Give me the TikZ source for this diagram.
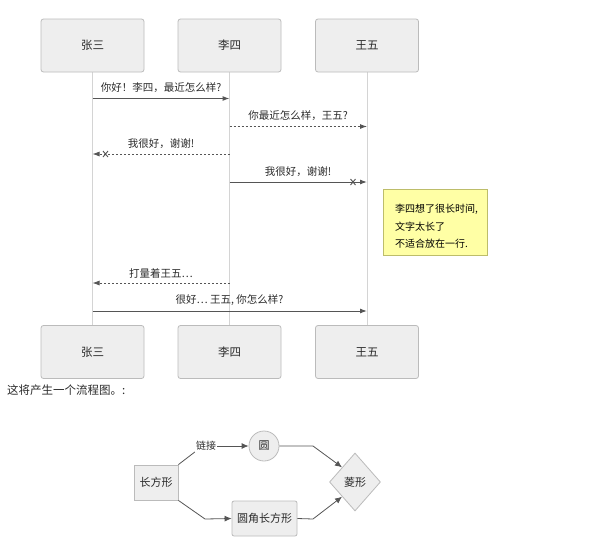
\documentclass[tikz,border=0pt]{standalone}
\usepackage{fontspec}
\setmainfont{Noto Sans CJK SC}
\usetikzlibrary{arrows.meta,shapes.geometric}
\definecolor{boxfill}{HTML}{EEEEEE}
\definecolor{boxdraw}{HTML}{BBBBBB}
\definecolor{lifeline}{HTML}{D4D4D4}
\definecolor{msg}{HTML}{555555}
\definecolor{notefill}{HTML}{FFFFA5}
\definecolor{notedraw}{HTML}{BDBD6A}
\definecolor{txt}{HTML}{2A2A2A}
\tikzset{
  actor/.style={draw=boxdraw,line width=0.8pt,fill=boxfill,rounded corners=2.5pt,minimum width=103pt,minimum height=53pt,font=\fontsize{11.5}{14}\selectfont,text=txt,inner sep=0pt},
  life/.style={draw=lifeline,line width=1pt},
  msgsolid/.style={draw=msg,line width=1pt,-{Latex[length=7pt,width=5pt]}},
  msgdot/.style={draw=msg,line width=0.8pt,dash pattern=on 2pt off 2pt,-{Latex[length=7pt,width=5pt]}},
  mlabel/.style={font=\fontsize{10.5}{13}\selectfont,text=txt,inner sep=0pt},
  cross/.style={draw=msg,line width=0.9pt},
  fnode/.style={draw=boxdraw,line width=0.8pt,fill=boxfill,font=\fontsize{11}{13}\selectfont,text=txt,inner sep=0pt},
  fedge/.style={draw=msg,line width=0.8pt,-{Latex[length=7pt,width=6pt]}},
}
\begin{document}
\begin{tikzpicture}[x=1pt,y=-1pt]
\useasboundingbox (0,0) rectangle (603,555);
% lifelines
\coordinate (l1t) at (92.5,72); \coordinate (l1b) at (92.5,326);
\coordinate (l2t) at (229.5,72); \coordinate (l2b) at (229.5,326);
\coordinate (l3t) at (367,72); \coordinate (l3b) at (367,326);
\draw[life] (l1t) -- (l1b);
\draw[life] (l2t) -- (l2b);
\draw[life] (l3t) -- (l3b);
% actors
\node[actor] (a1) at (92.5,45.5) {张三};
\node[actor] (a2) at (229.5,45.5) {李四};
\node[actor] (a3) at (367,45.5) {王五};
\node[actor] (b1) at (92.5,352) {张三};
\node[actor] (b2) at (229.5,352) {李四};
\node[actor] (b3) at (367,352) {王五};
% messages
\coordinate (m1a) at (92.5,98.5); \coordinate (m1b) at (229.5,98.5);
\draw[msgsolid] (m1a) -- (m1b);
\node[mlabel] (t1) at (161,88) {你好！李四，最近怎么样?};
\coordinate (m2a) at (229.5,126.5); \coordinate (m2b) at (367,126.5);
\draw[msgdot] (m2a) -- (m2b);
\node[mlabel] (t2) at (298,116) {你最近怎么样，王五?};
\coordinate (m3a) at (229.5,154); \coordinate (m3b) at (92.5,154);
\draw[msgdot] (m3a) -- (m3b);
\draw[cross] (103,151) -- (108,157) (103,157) -- (108,151);
\node[mlabel] (t3) at (161,144) {我很好，谢谢!};
\coordinate (m4a) at (229.5,182); \coordinate (m4b) at (367,182);
\draw[msgsolid] (m4a) -- (m4b);
\draw[cross] (350.5,179) -- (355.5,185) (350.5,185) -- (355.5,179);
\node[mlabel] (t4) at (298,172) {我很好，谢谢!};
% note
\node[draw=notedraw,line width=0.8pt,fill=notefill,minimum width=104pt,minimum height=66pt,inner sep=0pt] (note) at (435,222) {};
\node[anchor=west,align=left,font=\fontsize{10}{17.5}\selectfont,text=black,inner sep=0pt] (notet) at (395,226.5) {李四想了很长时间,\\文字太长了\\不适合放在一行.};
\coordinate (m5a) at (229.5,283); \coordinate (m5b) at (92.5,283);
\draw[msgdot] (m5a) -- (m5b);
\node[mlabel] (t5) at (161,273) {打量着王五…};
\coordinate (m6a) at (92.5,311); \coordinate (m6b) at (367,311);
\draw[msgsolid] (m6a) -- (m6b);
\node[mlabel] (t6) at (229.5,300) {很好… 王五, 你怎么样?};
% caption
\node[anchor=west,font=\fontsize{11.5}{13}\selectfont,text=txt,inner sep=0pt] (cap) at (7,390) {这将产生一个流程图。:};
% flowchart
\node[fnode,minimum width=44pt,minimum height=35pt] (rect) at (156,482.5) {长方形};
\node[fnode,circle,minimum size=30pt] (circ) at (264,446) {圆};
\node[fnode,rounded corners=2pt,minimum width=65pt,minimum height=35pt] (rrect) at (264.5,518.5) {圆角长方形};
\node[fnode,diamond,minimum width=51pt,minimum height=58pt] (dia) at (355,482) {菱形};
\node[font=\fontsize{10}{12}\selectfont,fill=white,inner sep=1pt,text=txt] (lnk) at (206,446) {链接};
\draw[draw=msg,line width=0.8pt] (rect.north east) -- (lnk.west |- 0,452);
\draw[fedge] (lnk.east) -- (circ.west);
\coordinate (j1) at (205,519);
\draw[fedge] (rect.south east) -- (j1) -- (rrect.west);
\coordinate (j2) at (313,446);
\draw[fedge] (circ.east) -- (j2) -- (dia.north west);
\coordinate (j3) at (313,519);
\draw[fedge] (rrect.east) -- (j3) -- (dia.south west);
\end{tikzpicture}
\end{document}
